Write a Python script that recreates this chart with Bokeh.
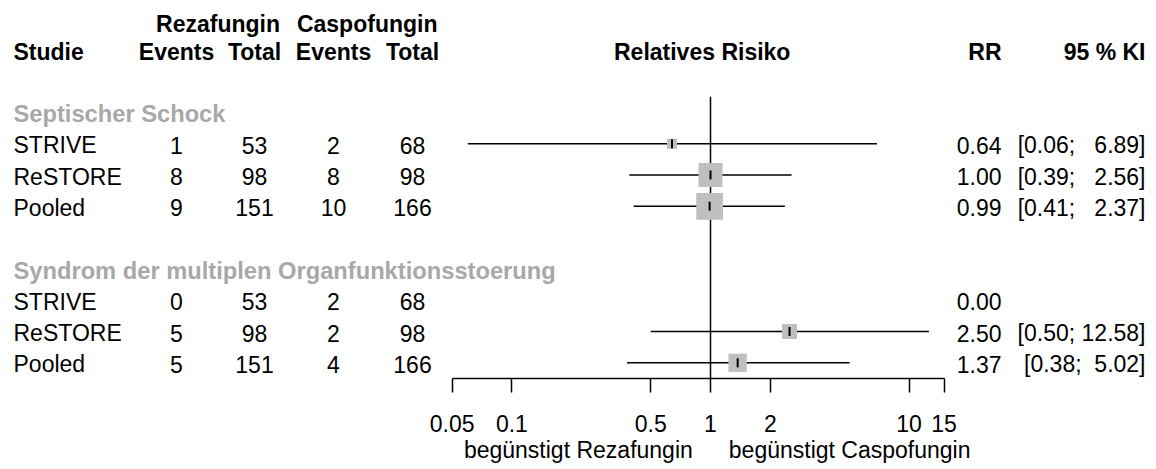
import math
from bokeh.plotting import figure
from bokeh.models import ColumnDataSource, Range1d, FixedTicker
from bokeh.core.properties import value
from bokeh.embed import file_html
from bokeh.resources import INLINE

# ---------------- data ----------------
subgroups = ["Septischer Schock", "Syndrom der multiplen Organfunktionsstoerung"]
study = ["STRIVE", "ReSTORE", "Pooled", "STRIVE", "ReSTORE", "Pooled"]
group_of = [0, 0, 0, 1, 1, 1]
events_reza = [1, 8, 9, 0, 5, 5]
total_reza = [53, 98, 151, 53, 98, 151]
events_caspo = [2, 8, 10, 2, 2, 4]
total_caspo = [68, 98, 166, 68, 98, 166]
rr = [0.64, 1.00, 0.99, 0.00, 2.50, 1.37]
ci_lo = [0.06, 0.39, 0.41, None, 0.50, 0.38]
ci_hi = [6.89, 2.56, 2.37, None, 12.58, 5.02]
box_side = [10, 24, 26.7, 0, 15, 18.3]  # relative study weight shown as square side
NB = "\u00a0"
ci_labels = ["[0.06;" + NB * 3 + "6.89]", "[0.39;" + NB * 3 + "2.56]", "[0.41;" + NB * 3 + "2.37]",
             "", "[0.50;" + NB + "12.58]", "[0.38;" + NB * 2 + "5.02]"]
tick_values = [0.05, 0.1, 0.5, 1, 2, 10, 15]
tick_labels = ["0.05", "0.1", "0.5", "1", "2", "10", "15"]
favours = ["begünstigt Rezafungin", "begünstigt Caspofungin"]
null_value = 1.0

# ---------------- layout helpers ----------------
W, H = 1156, 469
PX_DEC = 198.6          # pixels per decade
X_NULL = 710.0          # page x of RR = 1
ROW = 31.29             # pixels per row
Y_ROW0 = 112.0          # page y of first subgroup heading row
AXIS_PY = 378.0         # page y of the x axis line
TXT_FIX = 8.4           # renderer places alphabetic baseline this much lower

def rx(px):
    return 10 ** ((px - X_NULL) / PX_DEC)

def ky(py):
    return (py - Y_ROW0) / ROW

def kt(py):  # y for a text baseline at page y = py
    return ky(py - TXT_FIX)

FONT = value("Liberation Sans")
FS = "23px"
FS_SUB = "23.7px"
GRAY_TXT = "#a8a8a8"
BOX = "#bfbfbf"

p = figure(width=W, height=H, x_axis_type="log", output_backend="svg", toolbar_location=None,
           x_range=Range1d(rx(0), rx(W)),
           y_range=Range1d(ky(H), ky(0)),
           min_border=0, min_border_left=0, min_border_right=0, min_border_top=0,
           min_border_bottom=0,
           y_axis_location=None, outline_line_color=None)
p.xgrid.visible = False
p.ygrid.visible = False

# row positions
row_k = []
head_k = []
k = 0
for g in range(len(subgroups)):
    head_k.append(k)
    k += 1
    for i, gi in enumerate(group_of):
        if gi == g:
            row_k.append(k)
            k += 1
    k += 1

# ---------------- null line ----------------
p.segment(x0=[null_value], y0=[-0.5], x1=[null_value], y1=[ky(AXIS_PY)],
          line_color="black", line_width=1.5)

# ---------------- CIs, boxes ----------------
idx = [i for i in range(len(rr)) if rr[i] > 0 and ci_lo[i] is not None]
src = ColumnDataSource(dict(
    rr=[rr[i] for i in idx], lo=[ci_lo[i] for i in idx], hi=[ci_hi[i] for i in idx],
    k=[row_k[i] for i in idx], box=[box_side[i] for i in idx]))
p.segment(x0="lo", y0="k", x1="hi", y1="k", source=src, line_color="black", line_width=1.5)
p.rect(x="rr", y="k", width="box", height="box", width_units="screen", height_units="screen",
       source=src, fill_color=BOX, line_color=None)
p.scatter(x="rr", y="k", marker="dash", angle=math.pi / 2, size=9, source=src,
          line_color="black", line_width=2)

# ---------------- table text ----------------
def txt(xs, ys, texts, align, bold=False, color="black", size=FS):
    s = ColumnDataSource(dict(x=xs, y=ys, t=texts))
    p.text(x="x", y="y", text="t", source=s, text_font=FONT, text_font_size=size,
           text_align=align, text_baseline="alphabetic", text_color=color,
           text_font_style="bold" if bold else "normal")

ROW_BASE = 10.0  # baseline below row centre (px)
ys = [kt(Y_ROW0 + kk * ROW + ROW_BASE) for kk in row_k]
txt([rx(13)] * 6, ys, study, "left")
txt([rx(176)] * 6, ys, [str(v) for v in events_reza], "center")
txt([rx(254)] * 6, ys, [str(v) for v in total_reza], "center")
txt([rx(333)] * 6, ys, [str(v) for v in events_caspo], "center")
txt([rx(412)] * 6, ys, [str(v) for v in total_caspo], "center")
txt([rx(1001)] * 6, ys, ["%.2f" % v for v in rr], "right")
txt([rx(1145)] * 6, ys, ci_labels, "right")

# subgroup headings
txt([rx(13)] * 2, [kt(Y_ROW0 + kk * ROW + ROW_BASE) for kk in head_k], subgroups, "left",
    bold=True, color=GRAY_TXT, size=FS_SUB)

# column headings
yh1 = kt(31.7)
yh2 = kt(59.6)
txt([rx(217.5), rx(366.7)], [yh1, yh1], ["Rezafungin", "Caspofungin"], "center", bold=True)
txt([rx(13)], [yh2], ["Studie"], "left", bold=True)
txt([rx(176), rx(254), rx(333), rx(412)], [yh2] * 4, ["Events", "Total", "Events", "Total"],
    "center", bold=True)
txt([rx(701.7)], [yh2], ["Relatives Risiko"], "center", bold=True)
txt([rx(1001), rx(1145)], [yh2, yh2], ["RR", "95 % KI"], "right", bold=True)

# favours labels under the axis
txt([rx(692.3)], [kt(458)], [favours[0]], "right")
txt([rx(728.3)], [kt(458)], [favours[1]], "left")

# ---------------- x axis ----------------
ax = p.xaxis[0]
ax.fixed_location = ky(AXIS_PY)
ax.ticker = FixedTicker(ticks=tick_values, minor_ticks=[])
ax.major_label_overrides = {v: l for v, l in zip(tick_values, tick_labels)}
ax.bounds = (tick_values[0], tick_values[-1])
ax.axis_line_width = 1.5
ax.major_tick_line_width = 1.5
ax.major_tick_out = 14
ax.major_tick_in = 0
ax.minor_tick_out = 0
ax.minor_tick_in = 0
ax.major_label_standoff = 22
ax.major_label_text_font = "Liberation Sans"
ax.major_label_text_font_size = FS
ax.major_label_text_color = "black"

open("out.html", "w").write(file_html(p, INLINE))
